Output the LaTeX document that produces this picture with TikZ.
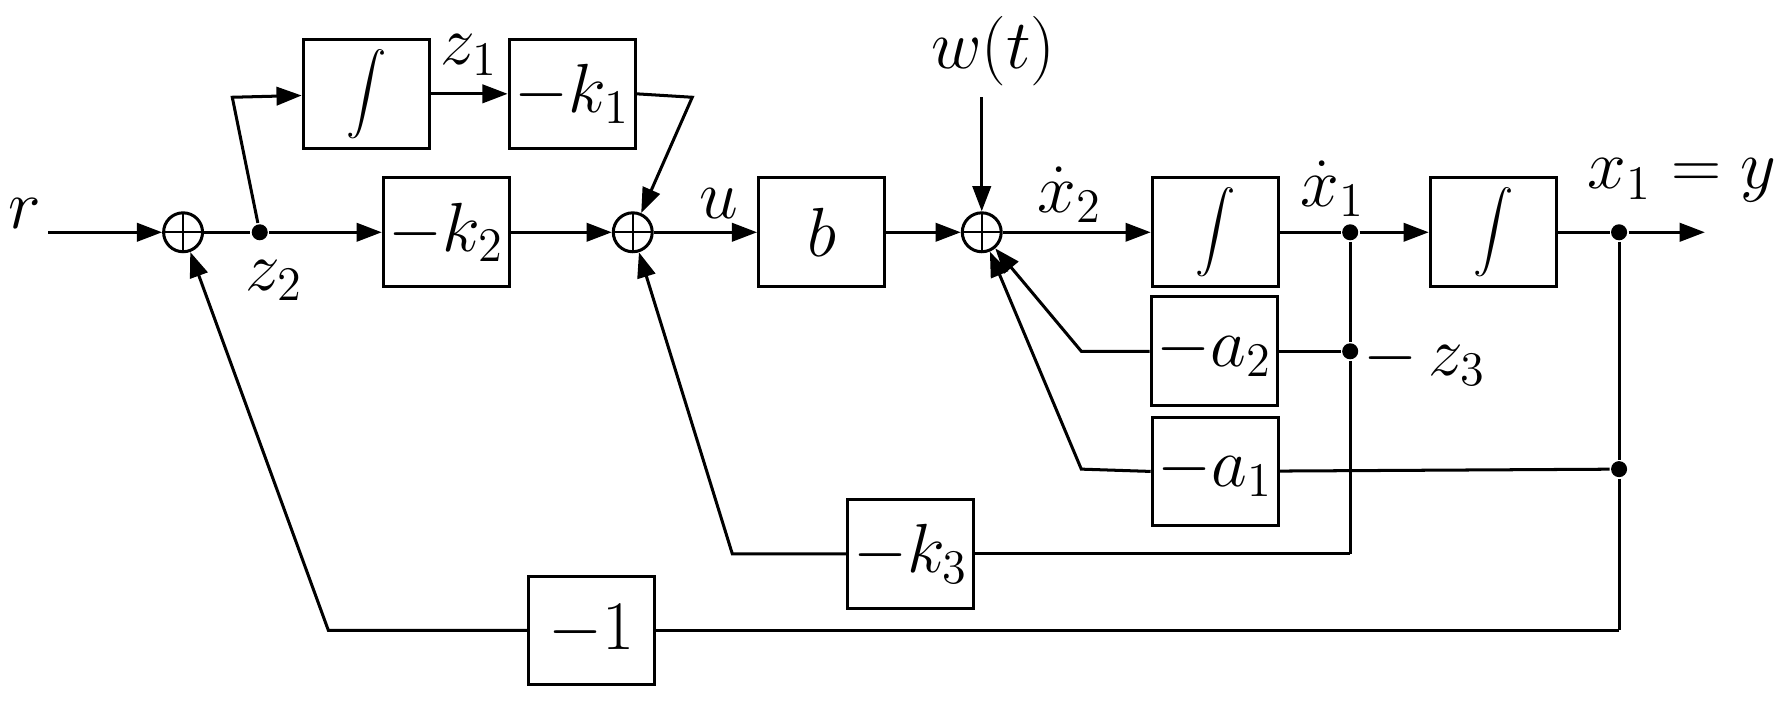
\documentclass[tikz,border=0pt]{standalone}
\usetikzlibrary{arrows.meta}
\begin{document}
\begin{tikzpicture}[x=0.01cm,y=-0.01cm,line width=0.75pt,
  font=\fontsize{17}{20}\selectfont,
  blk/.style={draw,minimum width=1.1cm,minimum height=0.95cm,inner sep=0pt},
  sum/.style={draw,circle,minimum size=0.34cm,inner sep=0pt,
    path picture={\draw[line width=0.5pt] (path picture bounding box.north)--(path picture bounding box.south)
      (path picture bounding box.west)--(path picture bounding box.east);}},
  dot/.style={circle,fill,inner sep=0pt,minimum size=0.14cm},
  arr/.style={-{Triangle[length=0.22cm,width=0.16cm]}},
  lbl/.style={inner sep=1pt}]
\useasboundingbox (0,0) rectangle (1560,615);
% blocks
\node[blk] (i1) at (320,82) {$\displaystyle\int$};
\node[blk] (k1) at (500,82) {$-k_1$};
\node[blk] (k2) at (390,203) {$-k_2$};
\node[blk] (b) at (718,203) {$b$};
\node[blk] (i2) at (1062,203) {$\displaystyle\int$};
\node[blk] (i3) at (1305,203) {$\displaystyle\int$};
\node[blk] (a2) at (1061,307) {$-a_2$};
\node[blk] (a1) at (1062,412) {$-a_1$};
\node[blk] (k3) at (796,484) {$-k_3$};
\node[blk] (m1) at (517,551) {$-1$};
% summers
\node[sum] (s1) at (160,203) {};
\node[sum] (s2) at (553,203) {};
\node[sum] (s3) at (858,203) {};
% dots
\node[dot] (dz2) at (227,203) {};
\node[dot] (dx1) at (1180,203) {};
\node[dot] (dy) at (1415,203) {};
\node[dot] (dz3) at (1180,307) {};
\node[dot] (da1) at (1415,410) {};
% auxiliary points
\coordinate (r0) at (42,203);
\coordinate (yend) at (1490,203);
\coordinate (w0) at (858,85);
\coordinate (c1) at (203,85);
\coordinate (c2) at (605,85);
\coordinate (c3) at (945,307);
\coordinate (c4) at (945,410);
\coordinate (c5) at (1180,484);
\coordinate (c6) at (640,484);
\coordinate (c7) at (1415,551);
\coordinate (c8) at (287,551);
% labels
\node[lbl] (lr) at (22,187) {$r$};
\node[lbl] (lz2) at (240,245) {$z_2$};
\node[lbl] (lz1) at (410,48) {$z_1$};
\node[lbl] (lu) at (628,178) {$u$};
\node[lbl] (lw) at (868,45) {$w(t)$};
\node[lbl] (lx2) at (935,170) {$\dot x_2$};
\node[lbl] (lx1) at (1165,165) {$\dot x_1$};
\node[lbl] (ly) at (1470,158) {$x_1=y$};
\node[lbl] (lz3) at (1245,315) {$-\,z_3$};
% forward path
\draw[arr] (r0) -- (s1);
\draw (s1) -- (dz2);
\draw[arr] (dz2) -- (k2);
\draw[arr] (dz2) -- (c1) -- (i1);
\draw[arr] (i1) -- (k1);
\draw[arr] (k1.east) -- (c2) -- (s2);
\draw[arr] (k2) -- (s2);
\draw[arr] (s2) -- (b);
\draw[arr] (b) -- (s3);
\draw[arr] (w0) -- (s3);
\draw[arr] (s3) -- (i2);
\draw (i2) -- (dx1);
\draw[arr] (dx1) -- (i3);
\draw (i3) -- (dy);
\draw[arr] (dy) -- (yend);
% feedback
\draw (dx1) -- (dz3) -- (c5);
\draw (dy) -- (da1) -- (c7);
\draw (dz3) -- (a2);
\draw[arr] (a2.west) -- (c3) -- (s3);
\draw (da1) -- (a1);
\draw[arr] (a1.west) -- (c4) -- (s3);
\draw (c5) -- (k3);
\draw[arr] (k3.west) -- (c6) -- (s2);
\draw (c7) -- (m1);
\draw[arr] (m1.west) -- (c8) -- (s1);
\end{tikzpicture}
\end{document}
